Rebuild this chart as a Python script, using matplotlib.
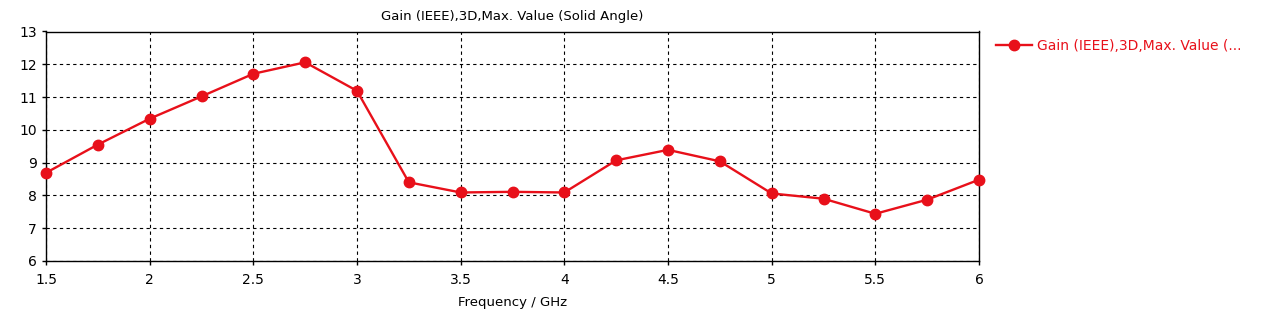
import matplotlib
matplotlib.use("Agg")
import matplotlib.pyplot as plt
from matplotlib.lines import Line2D

freq = [1.5, 1.75, 2.0, 2.25, 2.5, 2.75, 3.0, 3.25, 3.5, 3.75, 4.0,
        4.25, 4.5, 4.75, 5.0, 5.25, 5.5, 5.75, 6.0]
gain = [8.69, 9.55, 10.34, 11.02, 11.71, 12.06, 11.19, 8.40, 8.09, 8.11, 8.09,
        9.07, 9.39, 9.04, 8.06, 7.90, 7.44, 7.87, 8.48]
xticks = [1.5, 2, 2.5, 3, 3.5, 4, 4.5, 5, 5.5, 6]
xticklabels = ["1.5", "2", "2.5", "3", "3.5", "4", "4.5", "5", "5.5", "6"]
yticks = [6, 7, 8, 9, 10, 11, 12, 13]

title = "Gain (IEEE),3D,Max. Value (Solid Angle)"
legend_label = "Gain (IEEE),3D,Max. Value (..."
xlabel = "Frequency / GHz"

plt.rcParams['font.family'] = ['DejaVu Sans']
red = "#e8101a"

fig = plt.figure(figsize=(12.72, 3.11), dpi=100)
ax = fig.add_axes([46/1272, 50/311, (979-46)/1272, (261-31.5)/311])
ax.plot(freq, gain, color=red, lw=1.7, marker='o', ms=7.5, zorder=3, clip_on=False)
ax.set_xlim(1.5, 6)
ax.set_ylim(6, 13)
ax.set_xticks(xticks)
ax.set_xticklabels(xticklabels)
ax.set_yticks(yticks)
ax.grid(True, color='black', linestyle=(0, (3, 3)), lw=0.8)
ax.tick_params(direction='out', length=3, labelsize=10, width=1, color='black')
ax.tick_params(axis='x', pad=6)
for s in ax.spines.values():
    s.set_linewidth(1.0)
ax.set_title(title, fontsize=9.5, pad=8)
ax.set_xlabel(xlabel, fontsize=9.5, labelpad=6)

handle = Line2D([], [], color=red, lw=1.7, marker='o', ms=7.5)
fig.legend([handle], [legend_label], loc='upper left',
           bbox_to_anchor=(990/1272, 1 - 33/311), frameon=False,
           fontsize=10, labelcolor=red, handlelength=2.6, handletextpad=0.4,
           borderaxespad=0)

fig.savefig("out.png", dpi=100)
